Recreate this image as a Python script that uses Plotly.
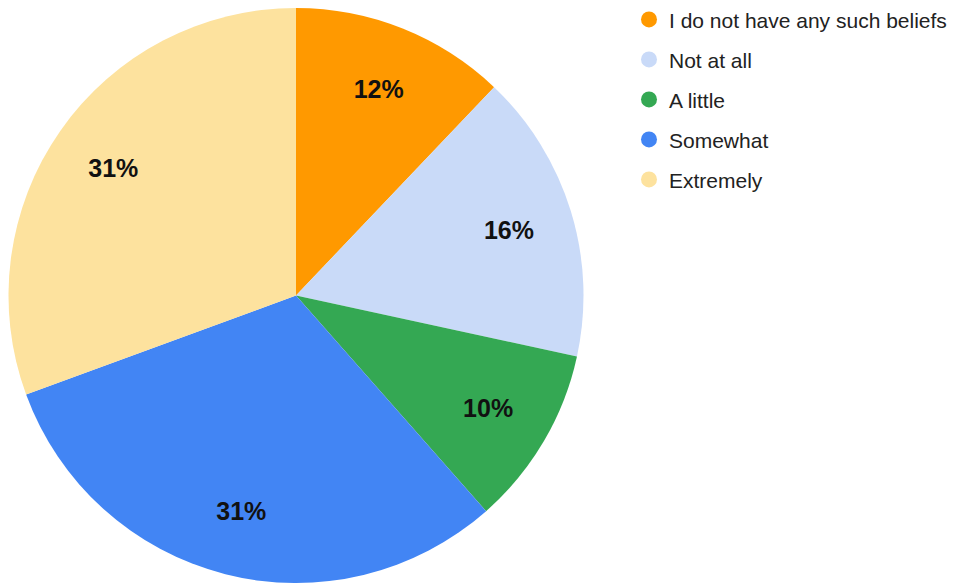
import plotly.graph_objects as go

labels = ["I do not have any such beliefs", "Not at all", "A little", "Somewhat", "Extremely"]
values = [12.1, 16.3, 10.1, 30.9, 30.6]
colors = ["#FF9900", "#C9DAF8", "#34A853", "#4285F4", "#FDE29E"]

dom = dict(x=[0, 576/962], y=[8/583, 1])
fig = go.Figure()
fig.add_trace(go.Pie(
    labels=labels, values=values, sort=False, direction="clockwise", rotation=0,
    marker=dict(colors=colors, line=dict(width=0)),
    textinfo="none", showlegend=False, domain=dom, hoverinfo="label+percent",
))
# transparent ring carrying the percentage labels further out from the centre
fig.add_trace(go.Pie(
    labels=labels, values=values, sort=False, direction="clockwise", rotation=0, hole=0.55,
    marker=dict(colors=["rgba(0,0,0,0)"] * len(labels), line=dict(width=0)),
    texttemplate="%{percent:.0%}", textposition="inside", insidetextorientation="horizontal",
    textfont=dict(family="Liberation Sans, Arial, sans-serif", size=25, color="#111111", weight="bold"),
    showlegend=False, domain=dom, hoverinfo="skip",
))
for lab, col in zip(labels, colors):
    fig.add_trace(go.Scatter(
        x=[None], y=[None], mode="markers", name=lab, legendgroup=lab,
        marker=dict(symbol="circle", size=16, color=col), showlegend=True,
    ))

fig.update_layout(
    width=962, height=583, margin=dict(l=0, r=0, t=0, b=0, autoexpand=False),
    paper_bgcolor="white", plot_bgcolor="white",
    xaxis=dict(visible=False), yaxis=dict(visible=False),
    legend=dict(x=621/962, y=1.0149, xanchor="left", yanchor="top", tracegroupgap=9.7,
                font=dict(family="Liberation Sans, Arial, sans-serif", size=21, color="#222222"),
                bgcolor="rgba(0,0,0,0)"),
)
fig.write_html("out.html")
